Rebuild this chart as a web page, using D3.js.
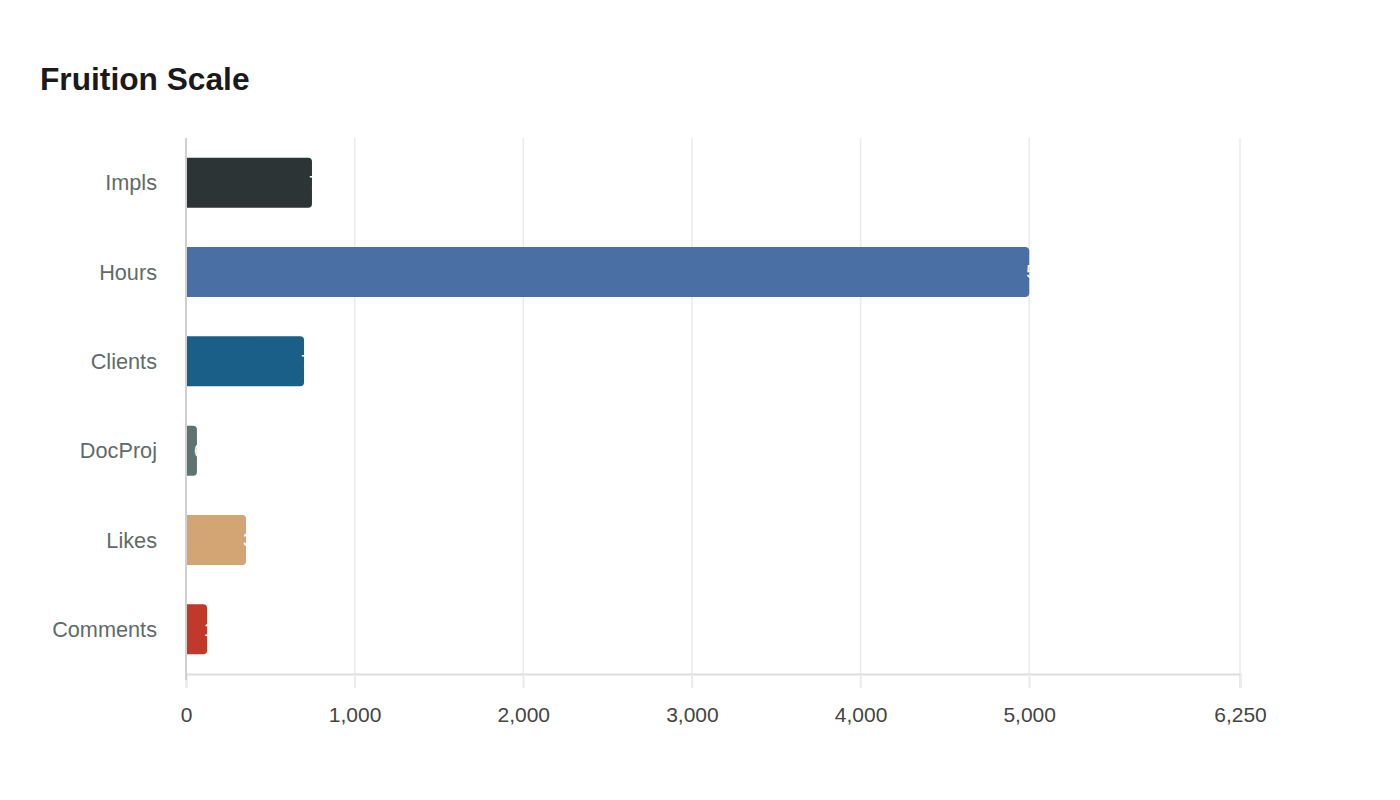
<!DOCTYPE html>
<html>
<head>
<meta charset="utf-8">
<script src="https://cdn.jsdelivr.net/npm/d3@7"></script>
<style>
	body { margin: 0; background: #fff; font-family: "Liberation Sans", Arial, sans-serif; }
</style>
</head>
<body>
<script>
const categories = ["Impls", "Hours", "Clients", "DocProj", "Likes", "Comments"];
const values = [747, 5000, 700, 65, 356, 125];
const colors = ["#2d3436", "#4a6fa5", "#1a5f88", "#5f7470", "#d4a574", "#c0392b"];
const tickValues = [0, 1000, 2000, 3000, 4000, 5000, 6250];

const width = 1400, height = 800;
const margin = { top: 138, right: 160, bottom: 126, left: 186 };
const innerW = width - margin.left - margin.right;
const innerH = height - margin.top - margin.bottom;

const svg = d3.select("body").append("svg")
	.attr("width", width)
	.attr("height", height);

svg.append("text")
	.attr("x", 40)
	.attr("y", 90)
	.attr("font-size", 31.7)
	.attr("font-weight", "bold")
	.attr("fill", "#1a1a1a")
	.text("Fruition Scale");

const g = svg.append("g").attr("transform", `translate(${margin.left},${margin.top})`);

const x = d3.scaleLinear().domain([0, 6250]).range([0, innerW]);
const y = d3.scaleBand().domain(categories).range([0, innerH]).paddingInner(0.44).paddingOuter(0.22);

// grid lines
g.append("g")
	.selectAll("line")
	.data(tickValues.slice(1))
	.enter()
	.append("line")
	.attr("x1", (d) => x(d))
	.attr("x2", (d) => x(d))
	.attr("y1", 0)
	.attr("y2", innerH + 14)
	.attr("stroke", "#ebebeb")
	.attr("stroke-width", 1.5);

// x axis
const xAxis = g.append("g")
	.attr("transform", `translate(0,${innerH})`)
	.call(d3.axisBottom(x).tickValues(tickValues).tickSize(14).tickPadding(19).tickFormat(d3.format(",")));
xAxis.select(".domain").attr("stroke", "#dddddd").attr("stroke-width", 2);
xAxis.selectAll(".tick line").attr("stroke", "#ebebeb").attr("stroke-width", 1.5);
xAxis.selectAll("text")
	.attr("font-size", 21)
	.attr("font-family", "Liberation Sans, Arial, sans-serif")
	.attr("fill", "#444");

// bars (rounded right end only)
const barPath = (d, i) => {
	const w = x(d), h = y.bandwidth(), r = Math.min(4, w / 2);
	const y0 = y(categories[i]);
	return `M0,${y0}H${w - r}Q${w},${y0} ${w},${y0 + r}V${y0 + h - r}Q${w},${y0 + h} ${w - r},${y0 + h}H0Z`;
};

g.append("g")
	.selectAll("path")
	.data(values)
	.enter()
	.append("path")
	.attr("d", barPath)
	.attr("fill", (d, i) => colors[i]);

// value labels (white, mostly past the bar end)
g.append("g")
	.selectAll("text")
	.data(values)
	.enter()
	.append("text")
	.attr("x", (d) => x(d) - 3)
	.attr("y", (d, i) => y(categories[i]) + y.bandwidth() / 2)
	.attr("dy", "0.35em")
	.attr("font-size", 18)
	.attr("fill", "#fff")
	.text((d) => d3.format(",")(d));

// y axis line
g.append("line")
	.attr("x1", 0).attr("x2", 0)
	.attr("y1", 0).attr("y2", innerH + 6)
	.attr("stroke", "#d0d0d0")
	.attr("stroke-width", 2);

// category labels
g.append("g")
	.selectAll("text")
	.data(categories)
	.enter()
	.append("text")
	.attr("x", -29)
	.attr("y", (d) => y(d) + y.bandwidth() / 2)
	.attr("dy", "0.35em")
	.attr("text-anchor", "end")
	.attr("font-size", 21.7)
	.attr("fill", "#5f6b6b")
	.text((d) => d);
</script>
</body>
</html>
